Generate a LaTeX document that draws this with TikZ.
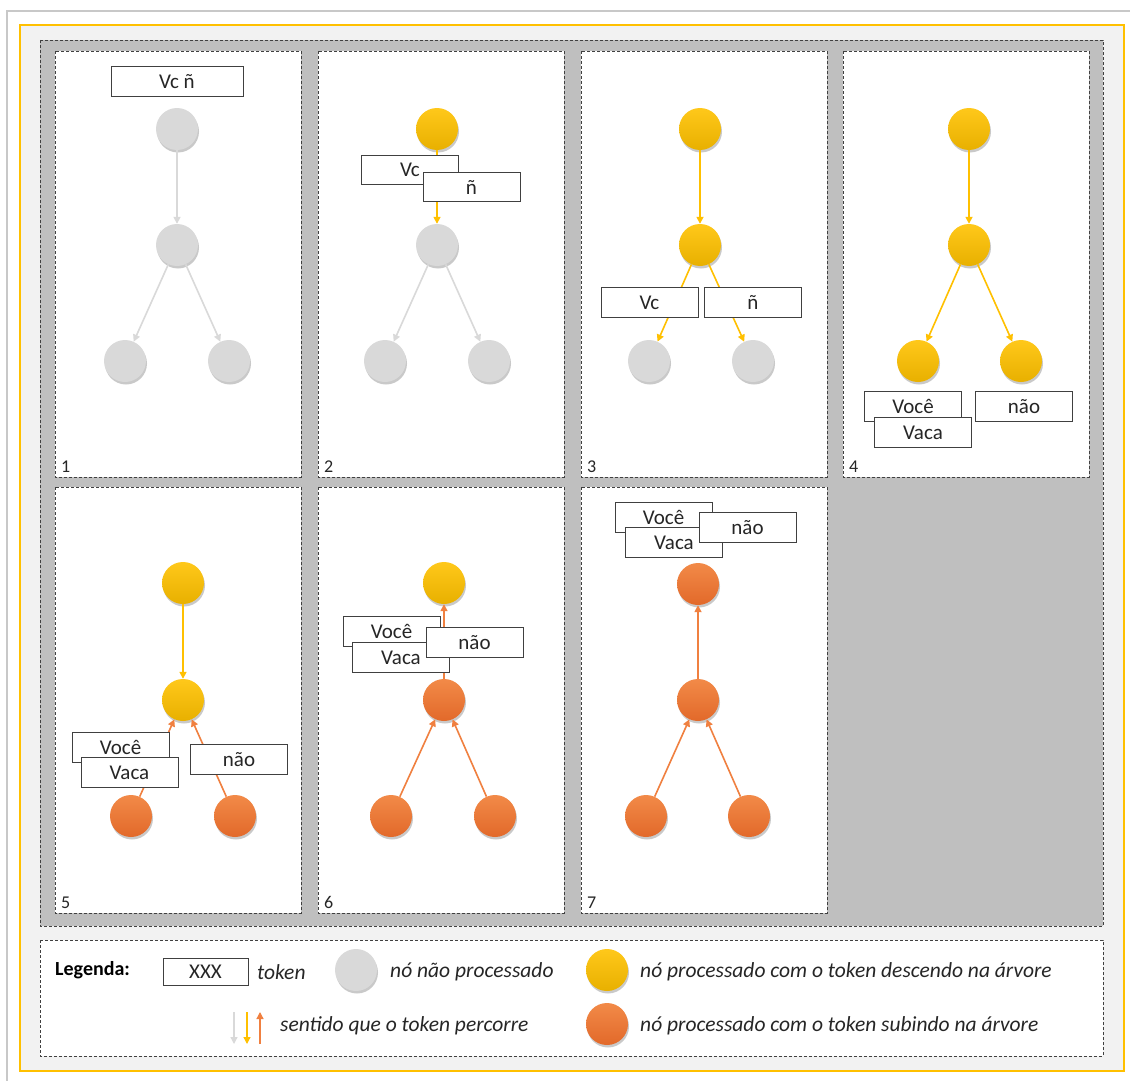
\documentclass[tikz,border=0pt]{standalone}
\usepackage{fontspec}
\setmainfont{Carlito}
\usetikzlibrary{arrows.meta,shadows}
\definecolor{framegray}{HTML}{C8C8C8}
\definecolor{frameyellow}{HTML}{FFC000}
\definecolor{paper}{HTML}{F2F2F2}
\definecolor{boardgray}{HTML}{BFBFBF}
\definecolor{dashgray}{HTML}{404040}
\definecolor{inkgray}{HTML}{262626}
\definecolor{nodegray}{HTML}{D9D9D9}
\definecolor{yeltop}{HTML}{FFC81A}
\definecolor{yelbot}{HTML}{E8B000}
\definecolor{oratop}{HTML}{F28A48}
\definecolor{orabot}{HTML}{E2692A}
\definecolor{edgegray}{HTML}{D9D9D9}
\definecolor{edgeyel}{HTML}{FFC000}
\definecolor{edgeora}{HTML}{F08040}
\tikzset{
  nd/.style={circle, minimum size=42pt, inner sep=0pt,
    drop shadow={shadow xshift=1pt, shadow yshift=-2.5pt, opacity=0.35, fill=black!60}},
  gnode/.style={nd, fill=nodegray},
  ynode/.style={nd, top color=yeltop, bottom color=yelbot},
  onode/.style={nd, top color=oratop, bottom color=orabot},
  tok/.style={draw=dashgray, fill=white, line width=1pt, inner sep=0pt,
    minimum width=97pt, minimum height=29.5pt, text=inkgray,
    font=\fontsize{21}{24}\selectfont},
  pane/.style={draw=dashgray, dashed, dash pattern=on 3pt off 2pt, line width=0.9pt, fill=white},
  plabel/.style={anchor=south west, inner sep=0pt, text=inkgray, font=\fontsize{18}{20}\selectfont},
  edge/.style={line width=1.6pt, -{Triangle[length=7pt,width=7pt]}},
  gedge/.style={edge, draw=edgegray, color=edgegray},
  yedge/.style={edge, draw=edgeyel, color=edgeyel},
  oedge/.style={edge, draw=edgeora, color=edgeora},
  legtext/.style={anchor=west, inner sep=0pt, text=inkgray, font=\fontsize{21.5}{24}\selectfont\itshape},
}
\begin{document}
\begin{tikzpicture}[x=1pt,y=-1pt]
\useasboundingbox (0,0) rectangle (1130,1081);
\fill[white] (0,0) rectangle (1130,1081);
% outer frames
\draw[framegray, line width=1.5pt] (7,11) rectangle (1140,1095);
\draw[frameyellow, fill=paper, line width=1.2pt] (20,25) rectangle (1124,1071);
% board holding the seven steps
\draw[pane, fill=boardgray] (40,40) rectangle (1103,926);
\foreach \px/\py/\n in {55/51/1, 318/51/2, 581/51/3, 843/51/4, 55/487/5, 318/487/6, 581/487/7}{
  \draw[pane] (\px,\py) rectangle ++(246,426);
  \node[plabel] (lab\n) at (\px+6,\py+422) {\n};
}

% ---- step 1
\node[gnode] (a1) at (177,129) {};
\node[gnode] (b1) at (177,245) {};
\node[gnode] (c1) at (125,361) {};
\node[gnode] (d1) at (229,361) {};
\draw[gedge] (a1) -- (b1);
\draw[gedge] (b1) -- (c1);
\draw[gedge] (b1) -- (d1);
\node[tok, minimum width=132pt] (t1) at (177,81.5) {Vc ñ};

% ---- step 2
\node[ynode] (a2) at (437,129) {};
\node[gnode] (b2) at (437,245) {};
\node[gnode] (c2) at (385,361) {};
\node[gnode] (d2) at (489,361) {};
\draw[yedge] (a2) -- (b2);
\draw[gedge] (b2) -- (c2);
\draw[gedge] (b2) -- (d2);
\node[tok] (t2a) at (410,170) {Vc};
\node[tok] (t2b) at (471.5,187) {ñ};

% ---- step 3
\node[ynode] (a3) at (700,129) {};
\node[ynode] (b3) at (700,245) {};
\node[gnode] (c3) at (649,361) {};
\node[gnode] (d3) at (753,361) {};
\draw[yedge] (a3) -- (b3);
\draw[yedge] (b3) -- (c3);
\draw[yedge] (b3) -- (d3);
\node[tok] (t3a) at (649.5,302.5) {Vc};
\node[tok] (t3b) at (753,302.5) {ñ};

% ---- step 4
\node[ynode] (a4) at (969,129) {};
\node[ynode] (b4) at (969,245) {};
\node[ynode] (c4) at (918,361) {};
\node[ynode] (d4) at (1021,361) {};
\draw[yedge] (a4) -- (b4);
\draw[yedge] (b4) -- (c4);
\draw[yedge] (b4) -- (d4);
\node[tok] (t4a) at (913,406.5) {Você};
\node[tok] (t4b) at (923,432.5) {Vaca};
\node[tok] (t4c) at (1024,406.5) {não};

% ---- step 5
\node[ynode] (a5) at (183,583) {};
\node[ynode] (b5) at (183,700) {};
\node[onode] (c5) at (131,816) {};
\node[onode] (d5) at (235,816) {};
\draw[yedge] (a5) -- (b5);
\draw[oedge] (c5) -- (b5);
\draw[oedge] (d5) -- (b5);
\node[tok] (t5a) at (120.5,747.5) {Você};
\node[tok] (t5b) at (129.5,772.5) {Vaca};
\node[tok] (t5c) at (239,759.5) {não};

% ---- step 6
\node[ynode] (a6) at (444,583) {};
\node[onode] (b6) at (444,700) {};
\node[onode] (c6) at (391,816) {};
\node[onode] (d6) at (495,816) {};
\draw[oedge] (b6) -- (a6);
\draw[oedge] (c6) -- (b6);
\draw[oedge] (d6) -- (b6);
\node[tok] (t6a) at (391.5,631.5) {Você};
\node[tok] (t6b) at (401,657.5) {Vaca};
\node[tok] (t6c) at (474.5,642.5) {não};

% ---- step 7
\node[onode] (a7) at (698,584) {};
\node[onode] (b7) at (698,700) {};
\node[onode] (c7) at (646,816) {};
\node[onode] (d7) at (749,816) {};
\draw[oedge] (b7) -- (a7);
\draw[oedge] (c7) -- (b7);
\draw[oedge] (d7) -- (b7);
\node[tok] (t7a) at (663.5,517.5) {Você};
\node[tok] (t7b) at (674,542.5) {Vaca};
\node[tok] (t7c) at (747.5,527.5) {não};

% ---- legend
\draw[pane] (40,940) rectangle (1103,1056);
\node[anchor=west, inner sep=0pt, text=black, font=\fontsize{20}{23}\selectfont\bfseries] (leg) at (55,970) {Legenda:};
\node[tok, minimum width=85pt, minimum height=27pt] (lx) at (205.5,971.5) {XXX};
\node[legtext] (ltok) at (257,972) {token};
\node[gnode] (lg) at (356,970) {};
\node[legtext] (lgt) at (390,972) {nó não processado};
\node[ynode] (ly) at (607,970) {};
\node[legtext] (lyt) at (640,972) {nó processado com o token descendo na árvore};
\node[onode] (lo) at (607,1024) {};
\node[legtext] (lot) at (640,1026) {nó processado com o token subindo na árvore};
\coordinate (g1) at (234,1012); \coordinate (g2) at (234,1044);
\coordinate (y1) at (247,1012); \coordinate (y2) at (247,1044);
\coordinate (o1) at (260,1044); \coordinate (o2) at (260,1012);
\draw[gedge, line width=1.3pt] (g1) -- (g2);
\draw[yedge, line width=1.3pt] (y1) -- (y2);
\draw[oedge, line width=1.3pt] (o1) -- (o2);
\node[legtext] (lat) at (280,1026) {sentido que o token percorre};
\end{tikzpicture}
\end{document}
